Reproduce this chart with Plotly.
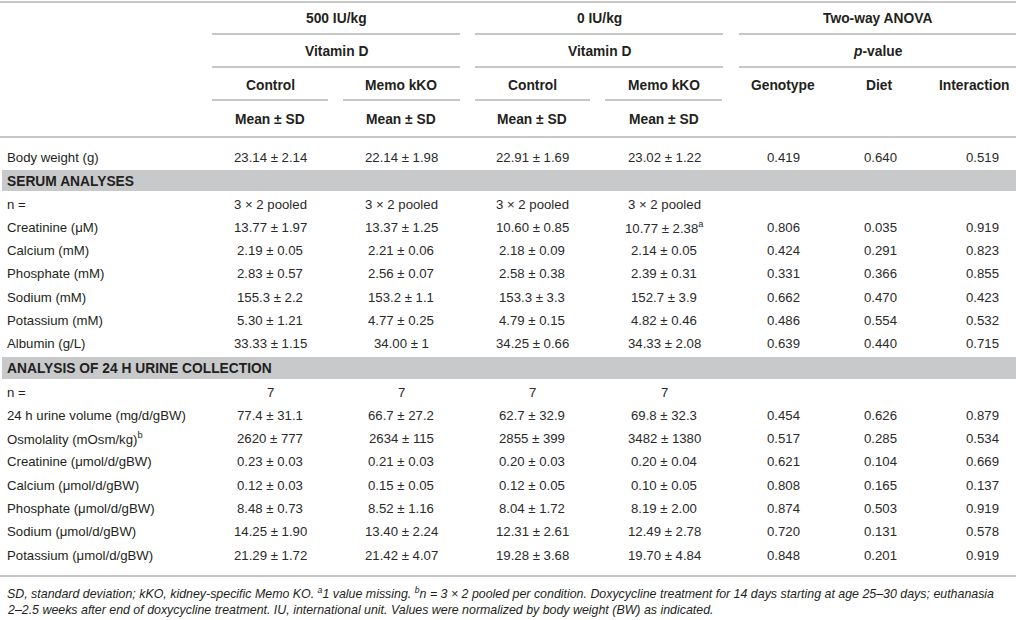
import plotly.graph_objects as go

W, H = 1016, 620

# ---------------- data ----------------
groups = ["500 IU/kg", "0 IU/kg", "Two-way ANOVA"]
group_sub = ["Vitamin D", "Vitamin D", "<i>p</i>-value"]
subcols = ["Control", "Memo kKO", "Control", "Memo kKO", "Genotype", "Diet", "Interaction"]
stat_hdr = ["Mean ± SD", "Mean ± SD", "Mean ± SD", "Mean ± SD", "", "", ""]

bw_label = "Body weight (g)"
bw_vals = ["23.14 ± 2.14", "22.14 ± 1.98", "22.91 ± 1.69", "23.02 ± 1.22", "0.419", "0.640", "0.519"]

serum_title = "SERUM ANALYSES"
serum_labels = ["n =", "Creatinine (μM)", "Calcium (mM)", "Phosphate (mM)",
                "Sodium (mM)", "Potassium (mM)", "Albumin (g/L)"]
serum_ctrl500 = ["3 × 2 pooled", "13.77 ± 1.97", "2.19 ± 0.05", "2.83 ± 0.57",
                 "155.3 ± 2.2", "5.30 ± 1.21", "33.33 ± 1.15"]
serum_kko500 = ["3 × 2 pooled", "13.37 ± 1.25", "2.21 ± 0.06", "2.56 ± 0.07",
                "153.2 ± 1.1", "4.77 ± 0.25", "34.00 ± 1"]
serum_ctrl0 = ["3 × 2 pooled", "10.60 ± 0.85", "2.18 ± 0.09", "2.58 ± 0.38",
               "153.3 ± 3.3", "4.79 ± 0.15", "34.25 ± 0.66"]
serum_kko0 = ["3 × 2 pooled", "10.77 ± 2.38<sup>a</sup>", "2.14 ± 0.05", "2.39 ± 0.31",
              "152.7 ± 3.9", "4.82 ± 0.46", "34.33 ± 2.08"]
serum_p_genotype = ["", "0.806", "0.424", "0.331", "0.662", "0.486", "0.639"]
serum_p_diet = ["", "0.035", "0.291", "0.366", "0.470", "0.554", "0.440"]
serum_p_inter = ["", "0.919", "0.823", "0.855", "0.423", "0.532", "0.715"]

urine_title = "ANALYSIS OF 24 H URINE COLLECTION"
urine_labels = ["n =", "24 h urine volume (mg/d/gBW)", "Osmolality (mOsm/kg)<sup>b</sup>",
                "Creatinine (μmol/d/gBW)", "Calcium (μmol/d/gBW)", "Phosphate (μmol/d/gBW)",
                "Sodium (μmol/d/gBW)", "Potassium (μmol/d/gBW)"]
urine_ctrl500 = ["7", "77.4 ± 31.1", "2620 ± 777", "0.23 ± 0.03", "0.12 ± 0.03",
                 "8.48 ± 0.73", "14.25 ± 1.90", "21.29 ± 1.72"]
urine_kko500 = ["7", "66.7 ± 27.2", "2634 ± 115", "0.21 ± 0.03", "0.15 ± 0.05",
                "8.52 ± 1.16", "13.40 ± 2.24", "21.42 ± 4.07"]
urine_ctrl0 = ["7", "62.7 ± 32.9", "2855 ± 399", "0.20 ± 0.03", "0.12 ± 0.05",
               "8.04 ± 1.72", "12.31 ± 2.61", "19.28 ± 3.68"]
urine_kko0 = ["7", "69.8 ± 32.3", "3482 ± 1380", "0.20 ± 0.04", "0.10 ± 0.05",
              "8.19 ± 2.00", "12.49 ± 2.78", "19.70 ± 4.84"]
urine_p_genotype = ["", "0.454", "0.517", "0.621", "0.808", "0.874", "0.720", "0.848"]
urine_p_diet = ["", "0.626", "0.285", "0.104", "0.165", "0.503", "0.131", "0.201"]
urine_p_inter = ["", "0.879", "0.534", "0.669", "0.137", "0.919", "0.578", "0.919"]

footnote_1 = ("SD, standard deviation; kKO, kidney-specific Memo KO. <sup>a</sup>1 value missing. "
              "<sup>b</sup>n = 3 × 2 pooled per condition. Doxycycline treatment for 14 days "
              "starting at age 25–30 days; euthanasia")
footnote_2 = ("2–2.5 weeks after end of doxycycline treatment. IU, international unit. "
              "Values were normalized by body weight (BW) as indicated.")

# ---------------- layout ----------------
FONT = "Liberation Sans, Arial, sans-serif"
TXT = "#231f20"
VAL = "#2a2a2a"
LINE = "#b4b4b4"
BAND = "#c8c9cb"
FS = 13.2
FSB = 13.8

col_x = [270, 401, 532, 664, 783, 880, 982]
hdr_x = [270, 401, 532, 664, 783, 879, 974]
col_span = [(212, 328), (343, 460), (475, 590), (605, 722)]
grp_span = [(212, 460), (475, 723), (739, 1016)]
label_x = 5
row_h = 23.3

fig = go.Figure()
ann = []
shapes = []


def text(x, y, s, bold=False, anchor="center", size=FS, color=VAL, italic=False):
    if bold:
        s = "<b>" + s + "</b>"
    if italic:
        s = "<i>" + s + "</i>"
    ann.append(dict(x=x, y=y, xref="x", yref="y", text=s, showarrow=False,
                    xanchor=anchor, yanchor="middle",
                    font=dict(family=FONT, size=size, color=color)))


def hline(x0, x1, y, w=1.4, color=LINE):
    shapes.append(dict(type="line", xref="x", yref="y", x0=x0, x1=x1, y0=y, y1=y,
                       line=dict(color=color, width=w)))


# header
hline(0, W, 2)
for g, sub, (a, b) in zip(groups, group_sub, grp_span):
    text((a + b) / 2, 18, g, bold=True, color=TXT, size=FSB)
    hline(a, b, 34)
    text((a + b) / 2, 51, sub, bold=True, color=TXT, size=FSB)
    hline(a, b, 67)
for i, c in enumerate(subcols):
    text(hdr_x[i], 85, c, bold=True, color=TXT, size=FSB)
for (a, b) in col_span:
    hline(a, b, 100)
for i, s in enumerate(stat_hdr):
    if s:
        text(hdr_x[i], 119, s, bold=True, color=TXT, size=FSB)
hline(0, W, 137)

# body weight row
text(label_x, 157, bw_label, anchor="left", color=TXT)
for i, v in enumerate(bw_vals):
    text(col_x[i], 157, v)


def section(title, y_band0, y_band1, y_first, labels, cols):
    shapes.append(dict(type="rect", xref="x", yref="y", x0=2, x1=W, y0=y_band0, y1=y_band1,
                       fillcolor=BAND, line=dict(width=0), layer="below"))
    text(label_x, (y_band0 + y_band1) / 2 + 0.5, title, bold=True, anchor="left",
         color=TXT, size=FSB)
    for r, lab in enumerate(labels):
        y = y_first + r * row_h
        text(label_x, y, lab, anchor="left", color=TXT)
        for i, col in enumerate(cols):
            if col[r]:
                text(col_x[i], y, col[r])


section(serum_title, 170, 191, 204, serum_labels,
        [serum_ctrl500, serum_kko500, serum_ctrl0, serum_kko0,
         serum_p_genotype, serum_p_diet, serum_p_inter])
section(urine_title, 357, 379, 392, urine_labels,
        [urine_ctrl500, urine_kko500, urine_ctrl0, urine_kko0,
         urine_p_genotype, urine_p_diet, urine_p_inter])

hline(0, W, 576)

text(5, 593, footnote_1, anchor="left", size=12.4, color=TXT, italic=True)
text(5, 610, footnote_2, anchor="left", size=12.4, color=TXT, italic=True)

fig.update_layout(
    width=W, height=H,
    margin=dict(l=0, r=0, t=0, b=0),
    paper_bgcolor="white", plot_bgcolor="white",
    xaxis=dict(range=[0, W], visible=False, fixedrange=True),
    yaxis=dict(range=[H, 0], visible=False, fixedrange=True),
    annotations=ann, shapes=shapes, showlegend=False,
)

fig.write_html("out.html", config={"displayModeBar": False},
               post_script="document.body.style.margin='0';document.body.style.overflow='hidden';")
